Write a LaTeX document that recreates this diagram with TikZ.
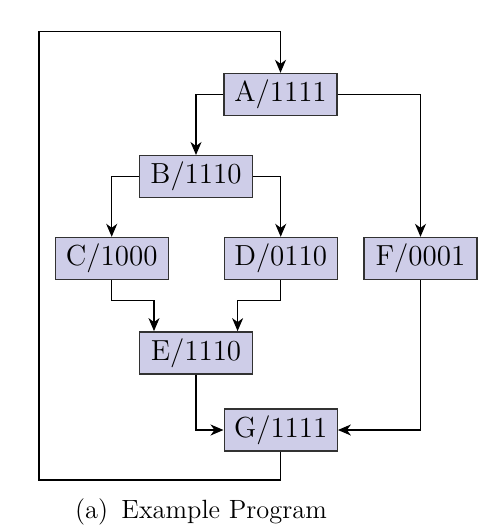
\documentclass[tikz,border=0pt]{standalone}
\usepackage{tikz}
\usetikzlibrary{arrows.meta}
\definecolor{boxfill}{RGB}{206, 205, 232}
\definecolor{boxline}{RGB}{50, 50, 50}

\begin{document}
\begin{tikzpicture}[x=0.5pt, y=-0.5pt,
    blk/.style={draw=boxline, fill=boxfill, line width=0.7pt,
      minimum width=56.5pt, minimum height=21pt, inner sep=0pt,
      font=\fontsize{14.5}{17}\selectfont},
    arr/.style={-{Stealth[length=6.5pt, width=5.5pt, inset=2pt]}, line width=0.6pt}]
  \useasboundingbox (0, 0) rectangle (478, 530);

  \foreach \n/\x/\y/\b in {A/280.5/94.5/1111, B/196/176.7/1110,
                           C/111.7/258.5/1000, D/280.7/258.5/0110,
                           F/420.5/258.5/0001, E/196/352.8/1110,
                           G/280.7/430/1111} {
    \node[blk] (\n) at (\x, \y) {\n/\b};
  }

  \draw[arr] (A.west) -| (B.north);
  \draw[arr] (A.east) -| (F.north);
  \draw[arr] (B.west) -| (C.north);
  \draw[arr] (B.east) -| (D.north);

  \draw[arr] (C.south) -- ++(0, 20.5) -| ([xshift=-21pt]E.north);
  \draw[arr] (D.south) -- ++(0, 20.5) -| ([xshift=20.8pt]E.north);

  \draw[arr] (E.south) |- (G.west);
  \draw[arr] (F.south) |- (G.east);

  % back edge from G to A
  \coordinate (lb) at (39, 480);
  \coordinate (lt) at (39, 31.7);
  \draw[arr] (G.south) |- (lb) -- (lt) -| (A.north);

  \node[anchor=base, font=\fontsize{13.2}{16}\selectfont] (cap) at (201, 518)
    {(a)\enspace Example Program};
\end{tikzpicture}
\end{document}
